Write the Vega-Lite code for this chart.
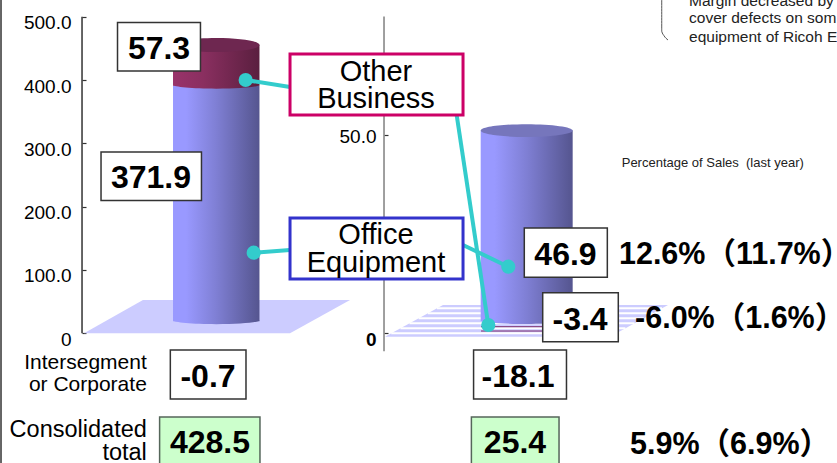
{
"$schema":"https://vega.github.io/schema/vega-lite/v6.json",
"width":837,"height":463,"padding":0,"autosize":{"type":"none"},"background":"white",
"config":{"view":{"stroke":null},"font":"Liberation Sans, Noto Sans CJK JP","text":{"font":"Liberation Sans, Noto Sans CJK JP"}},
"datasets":{
"bars":[
{"panel":"Net Sales","segment":"Office Equipment","start":0,"end":371.9},
{"panel":"Net Sales","segment":"Other Business","start":371.9,"end":429.2},
{"panel":"Operating Income","segment":"Office Equipment","start":0,"end":46.9}
],
"floors":[
{"panel":"Net Sales","x":10.04,"top":0,"bottom":0},
{"panel":"Net Sales","x":17.08,"top":52.6,"bottom":0},
{"panel":"Net Sales","x":34.65,"top":52.6,"bottom":0},
{"panel":"Net Sales","x":41.82,"top":52.6,"bottom":52.6},
{"panel":"Operating Income","x":46.0,"top":-5.4,"bottom":-5.4},
{"panel":"Operating Income","x":52.93,"top":44.7,"bottom":-5.4},
{"panel":"Operating Income","x":72.88,"top":44.7,"bottom":-5.4},
{"panel":"Operating Income","x":79.81,"top":44.7,"bottom":44.7}
],
"stripes":[
{"x":52.21,"x2":79.09,"level":39.47},
{"x":51.11,"x2":77.99,"level":31.57},
{"x":50.02,"x2":76.91,"level":23.68},
{"x":48.92,"x2":75.81,"level":15.79},
{"x":47.84,"x2":74.72,"level":7.9},
{"x":46.74,"x2":73.62,"level":0}
],
"negativeBar":[
{"x":57.47,"x2":65.11,"level":10.4},
{"x":57.47,"x2":65.11,"level":3.6}
],
"leaders":[
{"segment":"Other Business","x":29.35,"x2":34.65,"y":400,"y2":388.97},
{"segment":"Office Equipment","x":30.31,"x2":34.65,"y":127.3,"y2":131.55},
{"segment":"Office Equipment","x":60.73,"x2":55.32,"y":105.2,"y2":139.4},
{"segment":"Other Business","x":58.34,"x2":54.56,"y":13.1,"y2":344.75}
],
"whiteBoxes":[
{"label":"57.3","x":14.04,"x2":23.95,"y":490.84,"y2":414.24,"tx":19.0,"ty":452.1},
{"label":"371.9","x":12.07,"x2":24.07,"y":286.32,"y2":209.72,"tx":18.04,"ty":248.4},
{"label":"46.9","x":62.64,"x2":72.56,"y":166.29,"y2":88.43,"tx":67.56,"ty":126.8},
{"label":"-3.4","x":64.84,"x2":73.87,"y":64.1,"y2":-13.28,"tx":69.3,"ty":24.15},
{"label":"-0.7","x":20.35,"x2":29.39,"y":-26.38,"y2":-103.77,"tx":24.85,"ty":-65.9},
{"label":"-18.1","x":56.58,"x2":67.68,"y":-26.38,"y2":-103.77,"tx":61.89,"ty":-65.9}
],
"greenBoxes":[
{"label":"428.5","x":19.07,"x2":31.06,"y":-132.2,"y2":-215,"tx":25.09,"ty":-170.1},
{"label":"25.4","x":56.32,"x2":66.79,"y":-132.2,"y2":-215,"tx":61.53,"ty":-170.1}
],
"margins":[
{"label":"12.6%（11.7%）","x":73.95,"y":126.8},
{"label":"-6.0%（1.6%）","x":75.87,"y":25.7},
{"label":"5.9%（6.9%）","x":75.27,"y":-173.2}
],
"calloutText":[
{"label":"Other","x":44.92,"y":415.8},
{"label":"Business","x":44.92,"y":373.2},
{"label":"Office","x":44.92,"y":158.4},
{"label":"Equipment","x":44.92,"y":114.2}
],
"sideIntersegment":[
{"label":"Intersegment","x":17.54,"y":-46.9},
{"label":"or Corporate","x":17.54,"y":-81.7}
],
"sideConsolidated":[
{"label":"Consolidated","x":17.54,"y":-152.7},
{"label":"total","x":17.54,"y":-189.1}
],
"note":[
{"label":"Margin decreased by","x":82.32,"y":524.8},
{"label":"cover defects on som","x":82.32,"y":497.9},
{"label":"equipment of Ricoh E","x":82.32,"y":467.9}
],
"bracket":[
{"x":79.06,"y":530,"i":0},
{"x":79.06,"y":477,"i":1},
{"x":79.33,"y":470,"i":2},
{"x":79.81,"y":463.2,"i":3}
]
},
"resolve":{"scale":{"y":"independent"}},
"layer":[
{
"layer":[
{"data":{"values":[{"from":0,"to":500}]},
 "mark":{"type":"rule","stroke":"#333333","strokeWidth":1.5},
 "encoding":{
  "x":{"datum":9.8,"type":"quantitative","scale":{"domain":[0,100],"nice":false,"zero":false},"axis":null},
  "y":{"field":"from","type":"quantitative","scale":{"domain":[-204.83,526.37],"nice":false,"zero":false},
   "axis":{"title":null,"orient":"left","offset":-82,"domain":false,"grid":false,"values":[0,100,200,300,400,500],"tickSize":-4,"tickColor":"#333333","tickWidth":1.2,"labelPadding":15,"labelFontSize":19,"labelFont":"Liberation Sans","labelColor":"#000000","labelExpr":"datum.value==0?'0':format(datum.value,'.1f')","labelAlign":"right","labelBaseline":"middle","labelOffset":6}},
  "y2":{"field":"to"}}},
{"data":{"name":"floors"},"mark":{"type":"area","fill":"#ccccff","orient":"vertical","stroke":null},
 "encoding":{"detail":{"field":"panel"},"x":{"field":"x","type":"quantitative"},"y":{"field":"top","type":"quantitative"},"y2":{"field":"bottom"}}},
{"data":{"name":"stripes"},"mark":{"type":"rule","stroke":"#ffffff","strokeWidth":2},
 "encoding":{"x":{"field":"x","type":"quantitative"},"x2":{"field":"x2"},"y":{"field":"level","type":"quantitative"}}},
{"data":{"name":"negativeBar"},"mark":{"type":"rule","stroke":"#7a2a6a","strokeWidth":1},
 "encoding":{"x":{"field":"x","type":"quantitative"},"x2":{"field":"x2"},"y":{"field":"level","type":"quantitative"}}},
{"data":{"name":"bars"},"transform":[{"filter":"datum.panel=='Net Sales'&&datum.segment=='Office Equipment'"}],
 "mark":{"type":"rect","yOffset":-12,"y2Offset":-12,"fill":{"gradient":"linear","x1":0,"y1":0,"x2":1,"y2":0,"stops":[{"offset":0,"color":"#9999ff"},{"offset":0.15,"color":"#9999ff"},{"offset":0.5,"color":"#7f7fd4"},{"offset":1,"color":"#55558f"}]}},
 "encoding":{"x":{"datum":20.67,"type":"quantitative"},"x2":{"datum":31.0},"y":{"field":"end","type":"quantitative"},"y2":{"field":"start"}}},
{"data":{"name":"bars"},"transform":[{"filter":"datum.panel=='Net Sales'&&datum.segment=='Office Equipment'"}],
 "mark":{"type":"point","filled":true,"opacity":1,"size":7482,"yOffset":-13,"shape":"M-1,0A1,0.09,0,0,0,1,0Z","fill":{"gradient":"linear","x1":0,"y1":0,"x2":1,"y2":0,"stops":[{"offset":0,"color":"#9999ff"},{"offset":0.15,"color":"#9999ff"},{"offset":0.5,"color":"#7f7fd4"},{"offset":1,"color":"#55558f"}]}},
 "encoding":{"x":{"datum":25.84,"type":"quantitative"},"y":{"field":"start","type":"quantitative"}}},
{"data":{"name":"bars"},"transform":[{"filter":"datum.segment=='Other Business'"}],
 "mark":{"type":"rect","yOffset":-16.5,"y2Offset":-12,"fill":{"gradient":"linear","x1":0,"y1":0,"x2":1,"y2":0,"stops":[{"offset":0,"color":"#99336a"},{"offset":0.35,"color":"#8a2f60"},{"offset":1,"color":"#5a1f3f"}]}},
 "encoding":{"x":{"datum":20.67,"type":"quantitative"},"x2":{"datum":31.0},"y":{"field":"end","type":"quantitative"},"y2":{"field":"start"}}},
{"data":{"name":"bars"},"transform":[{"filter":"datum.segment=='Other Business'"}],
 "mark":{"type":"point","filled":true,"opacity":1,"size":7482,"yOffset":-13,"shape":"M-1,0A1,0.09,0,0,0,1,0Z","fill":{"gradient":"linear","x1":0,"y1":0,"x2":1,"y2":0,"stops":[{"offset":0,"color":"#99336a"},{"offset":0.35,"color":"#8a2f60"},{"offset":1,"color":"#5a1f3f"}]}},
 "encoding":{"x":{"datum":25.84,"type":"quantitative"},"y":{"field":"start","type":"quantitative"}}},
{"data":{"name":"bars"},"transform":[{"filter":"datum.segment=='Other Business'"}],
 "mark":{"type":"point","filled":true,"opacity":1,"size":7482,"yOffset":-16.5,"fill":"#6e2750","shape":"M-1,0A1,0.163,0,1,1,1,0A1,0.163,0,1,1,-1,0Z"},
 "encoding":{"x":{"datum":25.84,"type":"quantitative"},"y":{"field":"end","type":"quantitative"}}}
]},
{
"layer":[
{"data":{"values":[{"from":-4.5,"to":80}]},
 "mark":{"type":"rule","stroke":"#808080","strokeWidth":1.5},
 "encoding":{
  "x":{"datum":45.88,"type":"quantitative","scale":{"domain":[0,100],"nice":false,"zero":false},"axis":null},
  "y":{"field":"from","type":"quantitative","scale":{"domain":[-32.75,84.17],"nice":false,"zero":false},
   "axis":{"title":null,"orient":"left","offset":-384,"domain":false,"grid":false,"values":[0,50],"tickSize":-4,"tickColor":"#333333","tickWidth":1.2,"labelPadding":12,"labelFontSize":19,"labelFont":"Liberation Sans","labelColor":"#000000","labelFontWeight":{"condition":{"test":"datum.value==0","value":"bold"},"value":"normal"},"labelExpr":"datum.value==0?'0':format(datum.value,'.1f')","labelAlign":"right","labelBaseline":"middle","labelOffset":{"condition":{"test":"datum.value==0","value":6},"value":1}}},
  "y2":{"field":"to"}}},
{"data":{"name":"bars"},"transform":[{"filter":"datum.panel=='Operating Income'"}],
 "mark":{"type":"rect","yOffset":-17,"y2Offset":-12,"fill":{"gradient":"linear","x1":0,"y1":0,"x2":1,"y2":0,"stops":[{"offset":0,"color":"#9999ff"},{"offset":0.15,"color":"#9999ff"},{"offset":0.5,"color":"#7f7fd4"},{"offset":1,"color":"#55558f"}]}},
 "encoding":{"x":{"datum":57.43,"type":"quantitative"},"x2":{"datum":68.42},"y":{"field":"end","type":"quantitative"},"y2":{"field":"start"}}},
{"data":{"name":"bars"},"transform":[{"filter":"datum.panel=='Operating Income'"}],
 "mark":{"type":"point","filled":true,"opacity":1,"size":8464,"yOffset":-13,"shape":"M-1,0A1,0.08,0,0,0,1,0Z","fill":{"gradient":"linear","x1":0,"y1":0,"x2":1,"y2":0,"stops":[{"offset":0,"color":"#9999ff"},{"offset":0.15,"color":"#9999ff"},{"offset":0.5,"color":"#7f7fd4"},{"offset":1,"color":"#55558f"}]}},
 "encoding":{"x":{"datum":62.93,"type":"quantitative"},"y":{"field":"start","type":"quantitative"}}},
{"data":{"name":"bars"},"transform":[{"filter":"datum.panel=='Operating Income'"}],
 "mark":{"type":"point","filled":true,"opacity":1,"size":8464,"yOffset":-17,"fill":"#7676bc","shape":"M-1,0A1,0.14,0,1,1,1,0A1,0.14,0,1,1,-1,0Z"},
 "encoding":{"x":{"datum":62.93,"type":"quantitative"},"y":{"field":"end","type":"quantitative"}}}
]},
{
"layer":[
{"data":{"values":[{"from":-204.83,"to":526.37}]},
 "mark":{"type":"rule","stroke":"#333333","strokeWidth":1.5},
 "encoding":{
  "x":{"datum":0.12,"type":"quantitative","scale":{"domain":[0,100],"nice":false,"zero":false},"axis":null},
  "y":{"field":"from","type":"quantitative","scale":{"domain":[-204.83,526.37],"nice":false,"zero":false},"axis":null},
  "y2":{"field":"to"}}},
{"data":{"name":"leaders"},"mark":{"type":"rule","stroke":"#33cccc","strokeWidth":4},
 "encoding":{"x":{"field":"x","type":"quantitative"},"x2":{"field":"x2"},"y":{"field":"y","type":"quantitative"},"y2":{"field":"y2"}}},
{"data":{"name":"leaders"},"mark":{"type":"point","filled":true,"opacity":1,"fill":"#33cccc","shape":"circle","size":201},
 "encoding":{"x":{"field":"x","type":"quantitative"},"y":{"field":"y","type":"quantitative"}}},
{"data":{"values":[{"segment":"Other Business","x":34.65,"x2":55.32,"y":441.09,"y2":344.75}]},
 "mark":{"type":"rect","fill":"#ffffff","stroke":"#cc0066","strokeWidth":3},
 "encoding":{"x":{"field":"x","type":"quantitative"},"x2":{"field":"x2"},"y":{"field":"y","type":"quantitative"},"y2":{"field":"y2"}}},
{"data":{"values":[{"segment":"Office Equipment","x":34.65,"x2":55.32,"y":182.08,"y2":85.75}]},
 "mark":{"type":"rect","fill":"#ffffff","stroke":"#3333cc","strokeWidth":3},
 "encoding":{"x":{"field":"x","type":"quantitative"},"x2":{"field":"x2"},"y":{"field":"y","type":"quantitative"},"y2":{"field":"y2"}}},
{"data":{"name":"whiteBoxes"},"mark":{"type":"rect","fill":"#ffffff","stroke":"#333333","strokeWidth":1.5},
 "encoding":{"x":{"field":"x","type":"quantitative"},"x2":{"field":"x2"},"y":{"field":"y","type":"quantitative"},"y2":{"field":"y2"}}},
{"data":{"name":"greenBoxes"},"mark":{"type":"rect","fill":"#ccffcc","stroke":"#55665a","strokeWidth":1.5},
 "encoding":{"x":{"field":"x","type":"quantitative"},"x2":{"field":"x2"},"y":{"field":"y","type":"quantitative"},"y2":{"field":"y2"}}},
{"data":{"name":"whiteBoxes"},"mark":{"type":"text","fontSize":32,"fontWeight":"bold","align":"center","baseline":"middle","dy":1.5,"fill":"#000000","font":"Liberation Sans"},
 "encoding":{"x":{"field":"tx","type":"quantitative"},"y":{"field":"ty","type":"quantitative"},"text":{"field":"label"}}},
{"data":{"name":"greenBoxes"},"mark":{"type":"text","fontSize":32,"fontWeight":"bold","align":"center","baseline":"middle","dy":1.5,"fill":"#000000","font":"Liberation Sans"},
 "encoding":{"x":{"field":"tx","type":"quantitative"},"y":{"field":"ty","type":"quantitative"},"text":{"field":"label"}}},
{"data":{"name":"margins"},"mark":{"type":"text","fontSize":30.5,"fontWeight":"bold","align":"left","baseline":"middle","dy":2,"fill":"#000000","font":"Liberation Sans, Noto Sans CJK JP"},
 "encoding":{"x":{"field":"x","type":"quantitative"},"y":{"field":"y","type":"quantitative"},"text":{"field":"label"}}},
{"data":{"name":"calloutText"},"mark":{"type":"text","fontSize":29,"align":"center","baseline":"middle","dy":2,"fill":"#000000","font":"Liberation Sans"},
 "encoding":{"x":{"field":"x","type":"quantitative"},"y":{"field":"y","type":"quantitative"},"text":{"field":"label"}}},
{"data":{"name":"sideIntersegment"},"mark":{"type":"text","fontSize":21,"align":"right","baseline":"middle","fill":"#000000","font":"Liberation Sans"},
 "encoding":{"x":{"field":"x","type":"quantitative"},"y":{"field":"y","type":"quantitative"},"text":{"field":"label"}}},
{"data":{"name":"sideConsolidated"},"mark":{"type":"text","fontSize":23.5,"align":"right","baseline":"middle","fill":"#000000","font":"Liberation Sans"},
 "encoding":{"x":{"field":"x","type":"quantitative"},"y":{"field":"y","type":"quantitative"},"text":{"field":"label"}}},
{"data":{"values":[{"label":"Percentage of Sales\u00a0 (last year)","x":74.28,"y":268.9}]},"mark":{"type":"text","fontSize":13,"align":"left","baseline":"middle","fill":"#222222","font":"Liberation Sans"},
 "encoding":{"x":{"field":"x","type":"quantitative"},"y":{"field":"y","type":"quantitative"},"text":{"field":"label"}}},
{"data":{"name":"note"},"mark":{"type":"text","fontSize":15.5,"align":"left","baseline":"middle","fill":"#222222","font":"Liberation Sans"},
 "encoding":{"x":{"field":"x","type":"quantitative"},"y":{"field":"y","type":"quantitative"},"text":{"field":"label"}}},
{"data":{"name":"bracket"},"mark":{"type":"line","stroke":"#555555","strokeWidth":1,"interpolate":"monotone","clip":true},
 "encoding":{"order":{"field":"i"},"x":{"field":"x","type":"quantitative"},"y":{"field":"y","type":"quantitative"}}}
]}
]
}
